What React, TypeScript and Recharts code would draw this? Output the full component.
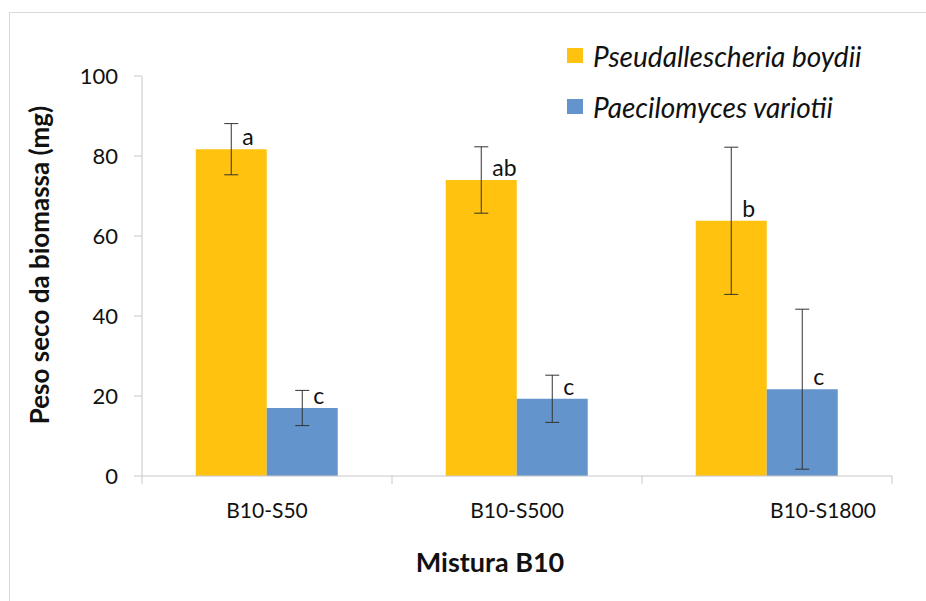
import React from 'react';
import { BarChart, Bar, XAxis, YAxis, ErrorBar, LabelList, Legend, Label } from 'recharts';

const categories = ['B10-S50', 'B10-S500', 'B10-S1800'];
const boydiiValues = [81.7, 74.0, 63.8];
const boydiiErrors = [6.4, 8.3, 18.4];
const boydiiLetters = ['a', 'ab', 'b'];
const variotiiValues = [17.0, 19.3, 21.7];
const variotiiErrors = [4.4, 5.9, 20.0];
const variotiiLetters = ['c', 'c', 'c'];
const yTicks = [0, 20, 40, 60, 80, 100];
const seriesNames = ['Pseudallescheria boydii', 'Paecilomyces variotii'];
const yTitle = 'Peso seco da biomassa (mg)';
const xTitle = 'Mistura B10';

const YELLOW = '#FFC20E';
const BLUE = '#6394CC';
const AXIS = '#C8C8C8';
const FONT = 'Lato, "Open Sans", sans-serif';
const tickShift = [0, 0, 56];

const data = categories.map((c, i) => ({
  name: c,
  boydii: boydiiValues[i],
  boydiiErr: boydiiErrors[i],
  boydiiLetter: boydiiLetters[i],
  variotii: variotiiValues[i],
  variotiiErr: variotiiErrors[i],
  variotiiLetter: variotiiLetters[i],
}));

const colors = [YELLOW, BLUE];

const LetterLabel = (props: any) => {
  const { x, y, width, value } = props;
  return (
    <text x={x + width / 2 + 11} y={y - 4} fontFamily={FONT} fontSize={23} fill="#111" textAnchor="start">
      {value}
    </text>
  );
};

const XTick = (props: any) => {
  const { x, y, payload, index } = props;
  const half = payload && typeof payload.offset === 'number' && payload.offset > 0 ? payload.offset : 125;
  return (
    <g>
      {index === 0 && <line x1={x - half} x2={x - half} y1={y - 8} y2={y} stroke={AXIS} />}
      <line x1={x + half} x2={x + half} y1={y - 8} y2={y} stroke={AXIS} />
      <text x={x + (tickShift[index] || 0)} y={y + 34} textAnchor="middle" fontFamily={FONT} fontSize={21} fill="#111">
        {payload.value}
      </text>
    </g>
  );
};

const LegendContent = () => (
  <div style={{ fontFamily: FONT, fontSize: 28, fontStyle: 'italic', color: '#111' }}>
    {seriesNames.map((n, i) => (
      <div key={n} style={{ display: 'flex', alignItems: 'center', height: 51 }}>
        <span style={{ display: 'inline-block', width: 16, height: 15, background: colors[i], marginRight: 10 }} />
        <span>{n}</span>
      </div>
    ))}
  </div>
);

export default function App() {
  return (
    <div style={{ position: 'absolute', left: 0, top: 0, width: 926, height: 601, background: '#fff' }}>
      <div style={{ position: 'absolute', left: 9, top: 12, right: 0, bottom: 0, borderLeft: '1px solid #D9D9D9', borderTop: '1px solid #D9D9D9' }} />
      <BarChart
        width={926}
        height={601}
        data={data}
        margin={{ top: 76, right: 34, bottom: 85, left: 0 }}
        barCategoryGap="21.5%"
        barGap={0}
      >
        <XAxis
          dataKey="name"
          height={40}
          axisLine={{ stroke: AXIS }}
          tickLine={false}
          tick={<XTick />}
          interval={0}
        >
          <Label
            content={(p: any) => {
              const vb = p.viewBox;
              return (
                <text x={vb.x + vb.width / 2 - 27} y={vb.y + 96} textAnchor="middle" fontFamily={FONT} fontWeight={700} fontSize={27} fill="#111">
                  {xTitle}
                </text>
              );
            }}
          />
        </XAxis>
        <YAxis
          width={142}
          domain={[0, 100]}
          ticks={yTicks}
          axisLine={{ stroke: AXIS }}
          tickLine={{ stroke: AXIS }}
          tickSize={8}
          tick={{ fontFamily: FONT, fontSize: 22, fill: '#111' }}
          tickMargin={16}
          interval={0}
        >
          <Label
            content={(p: any) => {
              const vb = p.viewBox;
              const cx = vb.x + 49;
              const cy = vb.y + vb.height / 2 - 11;
              return (
                <text x={cx} y={cy} transform={`rotate(-90 ${cx} ${cy})`} textAnchor="middle" fontFamily={FONT} fontWeight={700} fontSize={26} fill="#111">
                  {yTitle}
                </text>
              );
            }}
          />
        </YAxis>
        <Legend
          verticalAlign="middle"
          align="center"
          layout="horizontal"
          content={<LegendContent />}
          wrapperStyle={{ left: 567, top: 30, width: 'auto', height: 'auto' }}
        />
        <Bar dataKey="boydii" name={seriesNames[0]} fill={YELLOW} isAnimationActive={false}>
          <ErrorBar dataKey="boydiiErr" width={7} stroke="#333" strokeWidth={1} direction="y" />
          <LabelList dataKey="boydiiLetter" content={<LetterLabel />} />
        </Bar>
        <Bar dataKey="variotii" name={seriesNames[1]} fill={BLUE} isAnimationActive={false}>
          <ErrorBar dataKey="variotiiErr" width={7} stroke="#333" strokeWidth={1} direction="y" />
          <LabelList dataKey="variotiiLetter" content={<LetterLabel />} />
        </Bar>
      </BarChart>
    </div>
  );
}
